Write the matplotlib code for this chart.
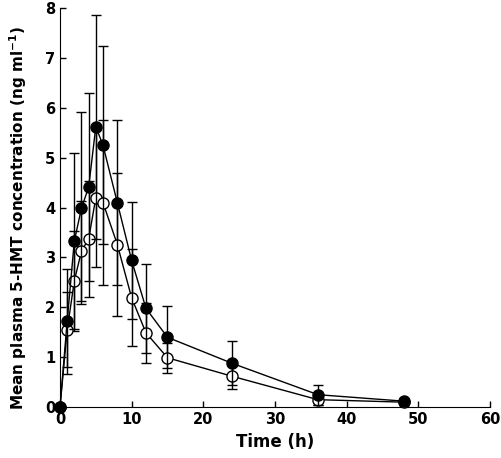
import matplotlib
matplotlib.use("Agg")
import matplotlib.pyplot as plt

# Data
time_h = [0, 1, 2, 3, 4, 5, 6, 8, 10, 12, 15, 24, 36, 48]

filled_mean = [0, 1.72, 3.33, 3.99, 4.41, 5.62, 5.25, 4.10, 2.94, 1.98, 1.40, 0.88, 0.25, 0.12]
filled_sd = [0, 1.05, 1.77, 1.92, 1.88, 2.24, 1.98, 1.66, 1.17, 0.89, 0.62, 0.44, 0.20, 0.05]

open_mean = [0, 1.55, 2.53, 3.13, 3.37, 4.20, 4.10, 3.26, 2.19, 1.49, 0.99, 0.62, 0.15, 0.10]
open_sd = [0, 0.75, 1.00, 1.00, 1.17, 1.40, 1.65, 1.43, 0.97, 0.60, 0.30, 0.25, 0.10, 0.05]

x_ticks = [0, 10, 20, 30, 40, 50, 60]
y_ticks = [0, 1, 2, 3, 4, 5, 6, 7, 8]

plt.rcParams["font.family"] = ["DejaVu Sans"]

fig = plt.figure(figsize=(5.02, 4.58), dpi=100)
ax = fig.add_axes([0.1195, 0.111, 0.8565, 0.8715])

# open circles first so the filled ones sit on top where they overlap
ax.errorbar(time_h, open_mean, yerr=open_sd, fmt="-o", color="black", ecolor="black",
            mfc="white", mec="black", ms=8, mew=1, lw=1, elinewidth=1,
            capsize=3.5, capthick=1, clip_on=False, zorder=3)
ax.errorbar(time_h, filled_mean, yerr=filled_sd, fmt="-o", color="black", ecolor="black",
            mfc="black", mec="black", ms=8, mew=1, lw=1, elinewidth=1,
            capsize=3.5, capthick=1, clip_on=False, zorder=4)

ax.set_xlim(0, 60)
ax.set_ylim(0, 8)
ax.set_xticks(x_ticks)
ax.set_yticks(y_ticks)
ax.spines["top"].set_visible(False)
ax.spines["right"].set_visible(False)
ax.tick_params(direction="in", length=4, width=1, labelsize=10.5)
for lab in ax.get_xticklabels() + ax.get_yticklabels():
    lab.set_fontweight("bold")

ax.set_xlabel("Time (h)", fontsize=12, fontweight="bold")
ax.set_ylabel(r"Mean plasma 5-HMT concentration (ng ml$^{\mathbf{-1}}$)",
              fontsize=11, fontweight="bold")
ax.yaxis.set_label_coords(-0.072, 0.475)

plt.savefig("out.png", dpi=100)
plt.close()
